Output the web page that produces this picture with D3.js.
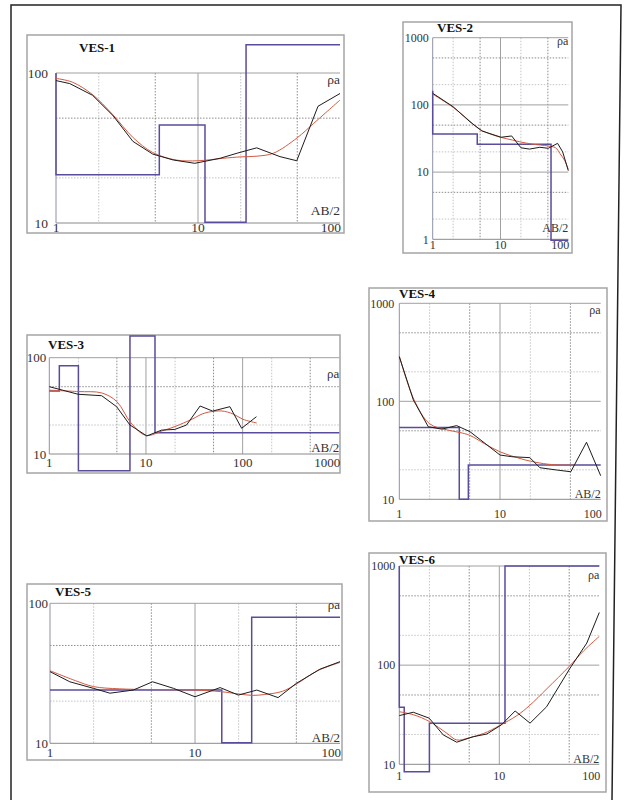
<!DOCTYPE html>
<html>
<head>
<meta charset="utf-8">
<script src="https://cdn.jsdelivr.net/npm/d3@7"></script>
<style>
body { margin: 0; background: #fff; }
text { font-family: "Liberation Serif", "Times New Roman", serif; fill: #333; }
</style>
</head>
<body>
<svg id="mainsvg" width="624" height="800"></svg>
<script>
// observed curves [AB/2, rho_a], fitted curves, and layer models (boundaries + resistivities)
var ves1Obs = [[1,89],[1.25,85],[1.81,71],[2.52,52],[3.48,35],[4.8,28.8],[6.7,26.3],[9.5,25],[14.3,27],[19.1,29.3],[25.9,31.7],[37.8,27.7],[49.6,26],[70,60],[100,73]];
var ves1Fit = [[1,92],[1.3,87],[1.8,72],[2.5,53],[3.5,37],[4.8,29.5],[7,26.3],[10,26],[15,27],[20,27.6],[26,27.9],[34,29.2],[50,37],[65,46],[100,66]];
var ves1Depth = [1, 5.34, 11.2, 21.8];
var ves1Rho = [100, 21, 45, 10.1, 154];

var ves2Obs = [[1,149],[2,94],[3.55,56],[5.3,41],[10.2,33],[14.6,34.5],[20,23],[26.7,22],[38,23.4],[50.6,22.6],[69.5,26.8],[82.6,20],[100,10.5]];
var ves2Fit = [[1,145],[2,92],[3,66],[5,43],[7,37],[10,33],[15,30],[20,28],[30,26],[50,24.5],[65,23],[75,19],[88,15],[100,11]];
var ves2Depth = [1, 4.54, 55.6];
var ves2Rho = [163, 37, 26, 0.97];

var ves3Obs = [[1,50],[1.99,41.7],[3.48,40.3],[4.97,31],[6.83,20],[10.2,15.4],[14.5,17.7],[19.9,18],[26.3,20],[36.3,31.5],[49,27.9],[73.8,31],[97.7,18.5],[139,24.4]];
var ves3Fit = [[1,46],[2,44.5],[3.5,43],[5,35],[7,21],[10,15.6],[15,17.5],[20,19.3],[30,23],[40,26.5],[60,28],[80,26],[100,23],[140,21]];
var ves3Depth = [1.27, 2.0, 6.83, 12.4];
var ves3Rho = [45, 82.6, 6.7, 168, 16.6];

var ves4Obs = [[1,285],[1.38,103],[1.94,55],[2.64,52],[3.71,56.5],[5.03,49],[10,28.3],[13.1,27.2],[19.8,26.6],[24.9,21],[36.6,19.9],[50.5,19.1],[72.3,38.2],[100,17.4]];
var ves4Fit = [[1,290],[1.4,104],[2,59],[3,51],[4,48],[5,45],[7,37],[10,30.5],[15,26.5],[20,24.5],[30,22.8],[40,22.4],[55,22.3]];
var ves4Depth = [3.94, 4.85];
var ves4Rho = [54, 10, 22.4];

var ves5Obs = [[1,32.5],[1.37,27.5],[1.99,24.7],[2.59,22.8],[3.75,24],[5.1,27.5],[7.1,24.7],[10,21.5],[14.9,25],[19.9,22.1],[26.7,24],[37.4,21.2],[50,26.8],[72.6,33.8],[100,38.3]];
var ves5Fit = [[1,33],[1.5,28],[2,25.4],[3,24.5],[5,24.2],[10,24],[15,23.4],[20,22.5],[25,22],[30,22.3],[40,23.5],[50,26.5],[70,33],[100,37.8]];
var ves5Depth = [15.3, 24.6];
var ves5Rho = [24, 10.1, 79.4];

var ves6Obs = [[1,31],[1.38,33.5],[1.99,29.2],[2.75,19.8],[3.75,16.7],[5.5,19],[7.5,20.2],[10.5,25],[14.4,34.5],[20.3,26],[29.7,38],[50.9,93],[75,167],[100,340]];
var ves6Fit = [[1,33.9],[1.4,31.5],[2,27],[3,20.5],[3.75,17.6],[5,18.5],[7,20.5],[10,24.5],[15,31],[20,39],[30,58],[50,97],[70,140],[100,195]];
var ves6Depth = [1, 1.12, 2.0, 11.4];
var ves6Rho = [1000, 37.7, 8.4, 25.9, 1000];

// tick labels
var xTicks100 = [1, 10, 100];
var xTicks1000 = [1, 10, 100, 1000];
var yTicks2 = [10, 100];
var yTicks3 = [10, 100, 1000];
var yTicks4 = [1, 10, 100, 1000];

var svg = d3.select('#mainsvg');
svg.append('path')
	.attr('d', 'M11,800 L11,5 L621,5 L612,800')
	.style('fill', 'none')
	.style('stroke', '#222')
	.style('stroke-width', 1.5);

function Panel(name, cfg) {
	this.name = name;
	this.cfg = cfg;
	this.layer = svg.append('g').attr('id', name);
}

Panel.prototype.Render = function() {
	var _this = this, c = this.cfg, g = this.layer;
	var x = d3.scaleLog().domain(c.xd).range(c.xr);
	var y = d3.scaleLog().domain(c.yd).range(c.yr);
	var lead = function(v) { return +v.toExponential()[0]; };

	g.append('rect')
		.attr('x', c.frame[0]).attr('y', c.frame[1])
		.attr('width', c.frame[2]-c.frame[0]).attr('height', c.frame[3]-c.frame[1])
		.style('fill', 'none').style('stroke', '#a5a5a5').style('stroke-width', 1.5);

	// grid: decades solid, 2 and 5 dotted
	x.ticks().filter(function(v){ return [1,2,5].indexOf(lead(v))>=0 && v>c.xd[0] && v<c.xd[1]; })
		.forEach(function(v) {
			var l = lead(v);
			g.append('line')
				.attr('x1', x(v)).attr('x2', x(v)).attr('y1', c.yr[0]).attr('y2', c.yr[1])
				.style('stroke', l==1 ? '#a0a0a0' : (l==5 ? '#8c8c8c' : '#c4c4c4'))
				.style('stroke-dasharray', l==1 ? null : '1.5,1.5');
		});
	y.ticks().filter(function(v){ return [1,2,5].indexOf(lead(v))>=0 && v>c.yd[1]; })
		.forEach(function(v) {
			var l = lead(v);
			g.append('line')
				.attr('x1', c.xr[0]).attr('x2', c.xr[1]).attr('y1', y(v)).attr('y2', y(v))
				.style('stroke', l==1 ? '#a0a0a0' : (l==5 ? '#8c8c8c' : '#c4c4c4'))
				.style('stroke-dasharray', l==1 ? null : '1.5,1.5');
		});
	g.append('line').attr('x1', c.xr[0]).attr('x2', c.xr[1]).attr('y1', c.yr[1]).attr('y2', c.yr[1])
		.style('stroke', '#8a8a8a');
	g.append('line').attr('x1', c.xr[0]).attr('x2', c.xr[0]).attr('y1', c.yr[0]).attr('y2', c.yr[1])
		.style('stroke', '#9090a8');

	// model step line
	var pts = [[c.xd[0], c.rho[0]]];
	c.depth.forEach(function(d, i) {
		pts.push([d, c.rho[i]]);
		pts.push([d, c.rho[i+1]]);
	});
	pts.push([c.xd[1], c.rho[c.rho.length-1]]);
	var line = d3.line().x(function(d){ return x(d[0]); }).y(function(d){ return y(d[1]); });
	g.append('path').attr('d', line(pts))
		.style('fill', 'none').style('stroke', '#5a4c9c').style('stroke-width', 1.5);

	g.append('path').attr('d', line.curve(d3.curveCatmullRom)(c.fit))
		.style('fill', 'none').style('stroke', '#d4593f').style('stroke-width', 1);
	g.append('path').attr('d', line.curve(d3.curveLinear)(c.obs))
		.style('fill', 'none').style('stroke', '#1c1c1c').style('stroke-width', 1);

	// labels
	var fs = c.fs + 'px';
	c.xt.forEach(function(v, i) {
		var last = i == c.xt.length-1;
		g.append('text').text(v)
			.attr('x', last ? c.xr[1]+1 : x(v))
			.attr('y', c.yr[1] + c.xdy)
			.style('text-anchor', last ? 'end' : 'middle')
			.style('font-size', fs);
	});
	c.yt.forEach(function(v) {
		g.append('text').text(v)
			.attr('x', c.xr[0] - c.ygap)
			.attr('y', y(v) + c.fs*0.35)
			.style('text-anchor', 'end')
			.style('font-size', fs);
	});
	g.append('text').text('ρa')
		.attr('x', c.xr[1]).attr('y', c.rhoY)
		.style('text-anchor', 'end').style('font-size', fs);
	g.append('text').text('AB/2')
		.attr('x', c.xr[1]).attr('y', c.abY)
		.style('text-anchor', 'end').style('font-size', fs);
	g.append('text').text(_this.name)
		.attr('x', c.title[0]).attr('y', c.title[1])
		.style('font-size', '13px').style('font-weight', 'bold').style('fill', '#111');
};

var panels = [
	new Panel('VES-1', {frame: [27,35,344,233], xr: [56,340], yr: [73,223], xd: [1,100], yd: [100,10],
		obs: ves1Obs, fit: ves1Fit, depth: ves1Depth, rho: ves1Rho, xt: xTicks100, yt: yTicks2,
		fs: 13.5, title: [79,52], xdy: 9, ygap: 8, rhoY: 84, abY: 215}),
	new Panel('VES-2', {frame: [403,22,572,253], xr: [432.7,568.3], yr: [37.7,239.3], xd: [1,100], yd: [1000,1],
		obs: ves2Obs, fit: ves2Fit, depth: ves2Depth, rho: ves2Rho, xt: xTicks100, yt: yTicks4,
		fs: 12, title: [437,32], xdy: 10, ygap: 4, rhoY: 45, abY: 232}),
	new Panel('VES-3', {frame: [27,335,340,473], xr: [49.3,339.3], yr: [357.7,454], xd: [1,1000], yd: [100,10],
		obs: ves3Obs, fit: ves3Fit, depth: ves3Depth, rho: ves3Rho, xt: xTicks1000, yt: yTicks2,
		fs: 13, title: [48,349], xdy: 13, ygap: 3, rhoY: 378, abY: 452}),
	new Panel('VES-4', {frame: [369,288,607,521], xr: [399.3,600.7], yr: [303.3,499.3], xd: [1,100], yd: [1000,10],
		obs: ves4Obs, fit: ves4Fit, depth: ves4Depth, rho: ves4Rho, xt: xTicks100, yt: yTicks3,
		fs: 12, title: [399,298], xdy: 19, ygap: 5, rhoY: 314, abY: 498}),
	new Panel('VES-5', {frame: [27,584,342,760], xr: [50,340], yr: [603.3,743.3], xd: [1,100], yd: [100,10],
		obs: ves5Obs, fit: ves5Fit, depth: ves5Depth, rho: ves5Rho, xt: xTicks100, yt: yTicks2,
		fs: 13, title: [55,596], xdy: 14, ygap: 2, rhoY: 609, abY: 742}),
	new Panel('VES-6', {frame: [369,553,606,792], xr: [399.3,599.3], yr: [566,764.3], xd: [1,100], yd: [1000,10],
		obs: ves6Obs, fit: ves6Fit, depth: ves6Depth, rho: ves6Rho, xt: xTicks100, yt: yTicks3,
		fs: 12, title: [399,563.5], xdy: 16, ygap: 4, rhoY: 579, abY: 763})
];
panels.forEach(function(p) { p.Render(); });
</script>
</body>
</html>
